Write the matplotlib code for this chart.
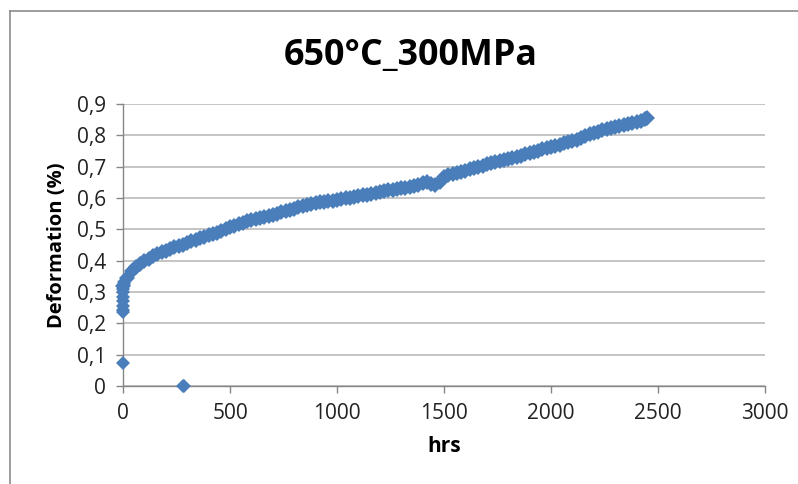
import matplotlib
matplotlib.use("Agg")
import matplotlib.pyplot as plt
from matplotlib.lines import Line2D
from matplotlib.ticker import FuncFormatter, MultipleLocator

# ---- data ----
start_hours = [0, 0, 0, 1, 1, 2, 2, 3, 4]
start_deform = [0.237, 0.242, 0.255, 0.270, 0.285, 0.300, 0.310, 0.325, 0.332]

outlier_hours = [0, 280, 285]
outlier_deform = [0.072, 0.000, 0.000]

hours = [0, 20, 40, 60, 80, 100, 120, 140, 160, 180,
         200, 220, 240, 260, 280, 300, 320, 340, 360, 380,
         400, 420, 440, 460, 480, 500, 520, 540, 560, 580,
         600, 620, 640, 660, 680, 700, 720, 740, 760, 780,
         800, 820, 840, 860, 880, 900, 920, 940, 960, 980,
         1000, 1020, 1040, 1060, 1080, 1100, 1120, 1140, 1160, 1180,
         1200, 1220, 1240, 1260, 1280, 1300, 1320, 1340, 1360, 1380,
         1400, 1420, 1440, 1460, 1480, 1500, 1520, 1540, 1560, 1580,
         1600, 1620, 1640, 1660, 1680, 1700, 1720, 1740, 1760, 1780,
         1800, 1820, 1840, 1860, 1880, 1900, 1920, 1940, 1960, 1980,
         2000, 2020, 2040, 2060, 2080, 2100, 2120, 2140, 2160, 2180,
         2200, 2220, 2240, 2260, 2280, 2300, 2320, 2340, 2360, 2380,
         2400, 2420, 2440, 2450]
deformation = [0.320, 0.346, 0.366, 0.379, 0.389, 0.398, 0.406, 0.414, 0.422, 0.428,
               0.432, 0.437, 0.443, 0.447, 0.451, 0.456, 0.462, 0.467, 0.471, 0.477,
               0.481, 0.485, 0.489, 0.494, 0.500, 0.506, 0.511, 0.516, 0.521, 0.526,
               0.529, 0.532, 0.536, 0.540, 0.543, 0.546, 0.550, 0.554, 0.558, 0.562,
               0.566, 0.570, 0.574, 0.577, 0.580, 0.584, 0.586, 0.588, 0.590, 0.592,
               0.594, 0.597, 0.599, 0.601, 0.604, 0.606, 0.609, 0.611, 0.614, 0.616,
               0.619, 0.621, 0.624, 0.626, 0.628, 0.631, 0.633, 0.636, 0.638, 0.642,
               0.648, 0.652, 0.646, 0.641, 0.650, 0.666, 0.673, 0.676, 0.679, 0.683,
               0.687, 0.691, 0.695, 0.699, 0.703, 0.707, 0.711, 0.715, 0.719, 0.722,
               0.724, 0.727, 0.731, 0.735, 0.740, 0.744, 0.748, 0.751, 0.755, 0.758,
               0.762, 0.766, 0.770, 0.774, 0.778, 0.782, 0.786, 0.791, 0.797, 0.803,
               0.808, 0.812, 0.816, 0.820, 0.824, 0.828, 0.831, 0.834, 0.837, 0.840,
               0.843, 0.847, 0.851, 0.854]

title = "650°C_300MPa"
x_label = "hrs"
y_label = "Deformation (%)"

# ---- styling ----
plt.rcParams['font.family'] = ['Open Sans', 'DejaVu Sans']
W, H = 798, 484
fig = plt.figure(figsize=(W / 100, H / 100), dpi=100)
fig.patch.set_facecolor('white')

ax = fig.add_axes([123 / W, 1 - 386 / H, (765 - 123) / W, (386 - 104) / H])
blue = '#4A7EBB'
ax.plot(hours, deformation, linestyle='none', marker='D', ms=8.4, color=blue,
        markeredgewidth=0, clip_on=False, zorder=3)
ax.plot(start_hours, start_deform, linestyle='none', marker='D', ms=7.4, color=blue,
        markeredgewidth=0, clip_on=False, zorder=3)
ax.plot(outlier_hours, outlier_deform, linestyle='none', marker='D', ms=7.4, color=blue,
        markeredgewidth=0, clip_on=False, zorder=3)

ax.set_xlim(0, 3000)
ax.set_ylim(0, 0.9)
ax.xaxis.set_major_locator(MultipleLocator(500))
ax.yaxis.set_major_locator(MultipleLocator(0.1))
ax.yaxis.set_major_formatter(FuncFormatter(
    lambda v, p: "0" if abs(v) < 1e-9 else f"{v:.1f}".replace('.', ',')))

ax.grid(axis='y', color='#B4B4B4', linewidth=1.1)
ax.set_axisbelow(True)
for s in ['top', 'right']:
    ax.spines[s].set_visible(False)
for s in ['left', 'bottom']:
    ax.spines[s].set_color('#868686')
    ax.spines[s].set_linewidth(1.0)
ax.tick_params(axis='both', direction='out', length=5, width=1.0, color='#868686',
               labelsize=15, labelcolor='#222222')
ax.tick_params(axis='y', pad=7)
ax.tick_params(axis='x', pad=7)

ax.set_xlabel(x_label, fontsize=15, fontweight='bold', labelpad=9)
ax.set_ylabel(y_label, fontsize=14.5, fontweight='bold', labelpad=7)
fig.text(411 / W, 1 - 56 / H, title, fontsize=25.8, fontweight='bold',
         ha='center', va='center')

# chart-area border (cropped at right and bottom)
fig.add_artist(Line2D([10 / W, 10 / W], [0, 1 - 10.5 / H], transform=fig.transFigure,
                      color='#8C8C8C', linewidth=1.2))
fig.add_artist(Line2D([10 / W, 1], [1 - 10.5 / H, 1 - 10.5 / H], transform=fig.transFigure,
                      color='#8C8C8C', linewidth=1.2))

fig.savefig('out.png', dpi=100, facecolor='white')
